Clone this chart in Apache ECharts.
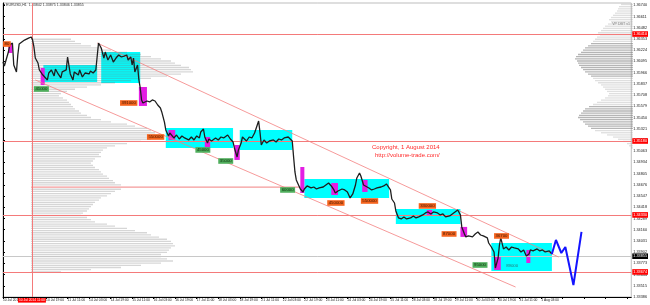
<!DOCTYPE html>
<html><head><meta charset="utf-8">
<script src="https://cdn.jsdelivr.net/npm/echarts@6/dist/echarts.min.js"></script>
<style>html,body{margin:0;padding:0;background:#fff}#c{width:650px;height:305px}</style>
</head><body><div id="c"></div>
<script>
// ---------- data ----------
const xLabels = ['10 Jul 2014','','10 Jul 19:00','11 Jul 11:00','14 Jul 03:00','14 Jul 19:00','15 Jul 11:00','16 Jul 03:00','16 Jul 19:00','17 Jul 11:00','18 Jul 03:00','18 Jul 19:00','21 Jul 11:00','22 Jul 03:00','22 Jul 19:00','23 Jul 11:00','24 Jul 03:00','24 Jul 19:00','25 Jul 11:00','28 Jul 03:00','28 Jul 19:00','29 Jul 11:00','30 Jul 03:00','30 Jul 19:00','31 Jul 11:00','1 Aug 03:00'];

const closeIdx = [0,1,4,5,7,8,10,11,12,14,16,19,21,22,23,24,26,27,29,30,33,34,36,38,39,41,43,44,47,48,50,52,53,56,57,59,61,64,65,67,69,70,71,73,75,76,78,80,82,84,86,88,90,92,93,95,96,97,98,100,101,102,103,104,107,109,111,113,115,117,118,120,121,123,124,127,129,131,133,135,138,140,142,144,146,147,149,150,152,153,155,158,160,162,164,167,169,171,172,174,175,177,178,181,183,185,187,189,190,191,192,194,196,198,201,203,205,207,209,212,213,215,216,217,218,220,221,223,224,226,229,231,233,235,238,240,242,244,246,247,249,252,254,256,258,260,262,263,265,266,268,269,272,274,276,278,281,283,285,286,288,289,291,292,294,296,298,300,303,305,307,309,312,314,316,318,320,323,325,327,329,332,334,336,338,340,341,343,344,346,349,351,353,355,357,360,361,363,365,366,368,369,370,372,374,376,378,380,383,385,387,389,391,392,394,397,399,401,403,406,408];
const closeVal = [1.36088,1.36042,1.36203,1.36284,1.36307,1.36054,1.35974,1.36169,1.36295,1.36318,1.36341,1.36364,1.36376,1.36341,1.36261,1.36134,1.36077,1.35997,1.35951,1.35928,1.35882,1.35962,1.35997,1.35928,1.36008,1.35951,1.35905,1.35974,1.35997,1.36146,1.35951,1.35882,1.35974,1.35939,1.35997,1.35916,1.35962,1.35951,1.35985,1.35962,1.35997,1.36020,1.36307,1.36249,1.36134,1.36203,1.36111,1.36169,1.36088,1.36134,1.36169,1.36146,1.36157,1.36169,1.36111,1.36146,1.36054,1.36134,1.35974,1.36054,1.35882,1.35790,1.35652,1.35617,1.35640,1.35629,1.35652,1.35640,1.35594,1.35560,1.35514,1.35398,1.35307,1.35238,1.35272,1.35215,1.35249,1.35203,1.35238,1.35215,1.35192,1.35226,1.35192,1.35238,1.35215,1.35284,1.35318,1.35226,1.35157,1.35203,1.35180,1.35215,1.35192,1.35226,1.35215,1.35249,1.35203,1.35169,1.35100,1.34996,1.35077,1.35157,1.35226,1.35180,1.35226,1.35215,1.35272,1.35364,1.35410,1.35284,1.35134,1.35192,1.35157,1.35180,1.35192,1.35169,1.35203,1.35192,1.35215,1.35226,1.35203,1.35180,1.34996,1.34824,1.34732,1.34663,1.34628,1.34594,1.34628,1.34663,1.34640,1.34651,1.34628,1.34640,1.34651,1.34674,1.34697,1.34663,1.34617,1.34582,1.34605,1.34628,1.34617,1.34594,1.34525,1.34571,1.34674,1.34755,1.34812,1.34778,1.34674,1.34651,1.34640,1.34617,1.34628,1.34640,1.34651,1.34663,1.34686,1.34697,1.34617,1.34513,1.34467,1.34376,1.34295,1.34284,1.34307,1.34284,1.34295,1.34318,1.34295,1.34307,1.34330,1.34353,1.34364,1.34341,1.34364,1.34353,1.34330,1.34341,1.34307,1.34318,1.34341,1.34364,1.34387,1.34330,1.34192,1.34111,1.34077,1.34088,1.34077,1.34111,1.34134,1.34099,1.34088,1.34065,1.34007,1.33961,1.33904,1.33720,1.33835,1.33984,1.34065,1.33939,1.33961,1.33927,1.33961,1.33950,1.33939,1.33904,1.33927,1.33857,1.33881,1.33927,1.33916,1.33939,1.33916,1.33927,1.33904,1.33916,1.33880];

const projIdx = [408,411,415,418,424,430];
const projVal = [1.33880,1.34042,1.33892,1.33961,1.33524,1.34134];

// cyan zones: [startIdx, endIdx, low, high]
const zones = [[30,70,1.35859,1.36054],[73,102,1.35847,1.36203],[121,171,1.35100,1.35330],[176,215,1.35077,1.35307],[224,287,1.34525,1.34743],[292,340,1.34226,1.34398],[363,408,1.33685,1.34007]];
// magenta high-volume bars: [startIdx, endIdx, low, high]
const hiBars = [[4,7,1.36192,1.36307],[28,31,1.35824,1.36020],[101,107,1.35583,1.35801],[123,128,1.35192,1.35307],[150,154,1.35111,1.35226],[172,176,1.34962,1.35134],[221,224,1.34582,1.34881],[244,249,1.34559,1.34697],[267,271,1.34594,1.34732],[315,319,1.34330,1.34387],[340,345,1.34077,1.34192],[365,370,1.33697,1.33847],[389,392,1.33777,1.33927]];

const orangeTags = [[0,1.36295,'80'],[87,1.35617,'391000'],[107,1.35226,'550000'],[241,1.34467,'450000'],[266,1.34490,'550000'],[309,1.34433,'330000'],[326,1.34111,'87000'],[365,1.34088,'36700']];
const greenTags = [[23,1.35778,'41000'],[143,1.35077,'45000'],[160,1.34950,'35000'],[206,1.34617,'60000'],[349,1.33754,'95000']];
const plainTags = [[374,1.33742,'89000']];

const upperChannel = [[70,1.36307],[413,1.33846]];
const lowerChannel = [[24,1.35882],[381,1.33501]];
const redLevels = [1.36410,1.35180,1.34330,1.33674];
const lastPrice = 1.33855;
const vLineIdx = 21.5;
const vLineText = '10 Jul 2014 11:00';

const profStep = 0.00025;
const leftProfTop = 1.36350;
const leftProfVol = [20,22,25,30,35,40,48,55,60,65,70,72,75,79,80,81,75,68,60,50,42,35,28,22,18,15,14,16,18,19,20,21,22,24,25,28,30,35,40,48,52,58,60,62,64,62,60,55,48,42,38,36,35,34,35,32,31,30,31,32,34,35,36,38,39,41,42,45,135,45,42,40,38,35,34,32,31,30,29,28,26,25,28,30,32,38,42,48,52,58,60,64,68,70,71,72,70,69,68,65,65,68,71,65,55,45,30,15];
const rightProfTop = 1.36750;
const rightProfVol = [6,7,7.5,8,9,10,11,12,11,12.5,14,15,16,17.5,16.5,18,19,20,21,22.5,24,25,26,27.5,28.5,29,28,27.5,27,26,25,24,22.5,21,20,19,17.5,16,15,14,13,12,12.5,14,16,18,20,22,24,25,26,27,27.5,26.5,25,24,22.5,21,19,16,13,10,7.5,5,3,2,1];

// ---------- chart ----------
const PMIN = 1.33386, PMAX = 1.36767, PINT = 0.00129;
const FONT = 'Liberation Sans';
const chart = echarts.init(document.getElementById('c'), null, {renderer:'canvas'});

const leftProfData = leftProfVol.map((v,i)=>[v, leftProfTop - i*profStep]);
const rightProfData = rightProfVol.map((v,i)=>[v, rightProfTop - i*profStep]);
const leftMax = Math.max(...leftProfVol);

function profRender(kind){
  return function(params, api){
    const v = api.value(0), p = api.value(1);
    const a = api.coord([0,p]), b = api.coord([v,p]);
    const h = api.size([0, profStep])[1];
    const x0 = Math.min(a[0],b[0]), w = Math.abs(b[0]-a[0]);
    let fill;
    if (kind==='L') fill = (v===leftMax) ? 'rgba(240,120,120,0.75)' : 'rgba(120,120,120,0.3)';
    else fill = v >= 21 ? 'rgba(120,120,120,0.55)' : 'rgba(150,150,150,0.3)';
    return {type:'rect', shape:{x:x0, y:a[1]-h*0.3, width:w, height:Math.max(1,h*0.6)}, style:{fill:fill}};
  };
}
function rectRender(color){
  return function(params, api){
    const tl = api.coord([api.value(0), api.value(3)]);
    const br = api.coord([api.value(1), api.value(2)]);
    return {type:'rect', shape:{x:tl[0], y:tl[1], width:br[0]-tl[0], height:br[1]-tl[1]}, style:{fill:color}};
  };
}
function tagSeries(list, bg, fg){
  return {type:'custom', xAxisIndex:0, yAxisIndex:0, z:30, silent:true,
    data: list.map(t=>[t[0],t[1]]),
    renderItem:function(params, api){
      const p = api.coord([api.value(0), api.value(1)]);
      const style = {text:list[params.dataIndex][2], fontSize:4.3, fontFamily:FONT, fill:fg, align:'left', verticalAlign:'middle'};
      if (bg){ style.backgroundColor = bg; style.padding = [1,1.5,0.6,1.5]; }
      return {type:'text', x:p[0], y:p[1], style:style};
    }};
}
const lvlLabel = (txt,bg,fs)=>({show:true, position:'end', distance:1, formatter:txt, backgroundColor:bg, color:'#fff', fontSize:fs, fontFamily:FONT, padding:[0.8,1]});
const markLines = redLevels.map(v=>({yAxis:v, lineStyle:{color:'#f47a7a', width:1, type:'solid'}, label:lvlLabel(v.toFixed(5),'#ff0000',3.8)}))
  .concat([{yAxis:lastPrice, lineStyle:{color:'#c8c8c8', width:1, type:'solid'}, label:lvlLabel(lastPrice.toFixed(5),'#000',3.8)},
           {xAxis:vLineIdx, lineStyle:{color:'#f47a7a', width:1, type:'solid'}, label:Object.assign(lvlLabel(vLineText,'#ff0000',3.3),{position:'start'})}]);

const option = {
  animation:false,
  backgroundColor:'#fff',
  grid:[{left:2, right:17, top:3, bottom:8, show:true, borderColor:'#bdbdbd', borderWidth:1, backgroundColor:'#fff'},
        {left:31, right:17, top:3, bottom:8},
        {left:2, right:17, top:3, bottom:8}],
  xAxis:[
    {type:'value', gridIndex:0, min:0, max:467, interval:16,
     axisLine:{show:true, lineStyle:{color:'#000', width:1}}, axisTick:{show:true, length:2, lineStyle:{color:'#000'}},
     splitLine:{show:false},
     axisLabel:{fontSize:3.3, fontFamily:FONT, color:'#222', margin:1.5, align:'left', showMaxLabel:false,
       formatter:function(v){ const k=Math.round(v/16); return xLabels[k]!==undefined ? xLabels[k] : ''; }}},
    {type:'value', gridIndex:1, min:0, max:301, show:false},
    {type:'value', gridIndex:2, min:0, max:315.5, inverse:true, show:false}
  ],
  yAxis:[
    {type:'value', gridIndex:0, position:'right', min:PMIN, max:PMAX, interval:PINT,
     axisLine:{show:true, lineStyle:{color:'#000'}}, axisTick:{show:true, length:2, lineStyle:{color:'#000'}},
     splitLine:{show:false},
     axisLabel:{fontSize:3.8, fontFamily:FONT, color:'#222', margin:2, showMaxLabel:false,
       formatter:function(v){ return v.toFixed(5); }}},
    {type:'value', gridIndex:1, min:PMIN, max:PMAX, show:false},
    {type:'value', gridIndex:2, min:PMIN, max:PMAX, show:false}
  ],
  graphic:[
    {type:'text', left:3, top:3, style:{text:'\u25BE EURUSD,H1  1.33842 1.33875 1.33846 1.33855', fontSize:3.6, fontFamily:FONT, fill:'#333'}},
    {type:'text', right:20, top:22, style:{text:'VP DBT v1', fontSize:3.6, fontFamily:FONT, fill:'#777'}},
    {type:'text', left:372, top:144, style:{text:'Copyright, 1 August 2014', fontSize:6, fontFamily:FONT, fill:'#ff2a2a'}},
    {type:'text', left:375, top:152, style:{text:'http://volume-trade.com/', fontSize:6, fontFamily:FONT, fill:'#ff2a2a'}}
  ],
  series:[
    {type:'custom', name:'zones', xAxisIndex:0, yAxisIndex:0, z:2, silent:true, data:zones, encode:{x:[0,1], y:[2,3]}, renderItem:rectRender('#00ffff')},
    {type:'custom', name:'leftProfile', xAxisIndex:1, yAxisIndex:1, z:3, silent:true, data:leftProfData, encode:{x:0,y:1}, renderItem:profRender('L')},
    {type:'custom', name:'rightProfile', xAxisIndex:2, yAxisIndex:2, z:3, silent:true, data:rightProfData, encode:{x:0,y:1}, renderItem:profRender('R')},
    {type:'custom', name:'hiBars', xAxisIndex:0, yAxisIndex:0, z:4, silent:true, data:hiBars, encode:{x:[0,1], y:[2,3]}, renderItem:rectRender('#e31ee3')},
    {type:'line', name:'upper', xAxisIndex:0, yAxisIndex:0, z:5, silent:true, data:upperChannel, symbol:'none', lineStyle:{color:'#f48080', width:0.8}},
    {type:'line', name:'lower', xAxisIndex:0, yAxisIndex:0, z:5, silent:true, data:lowerChannel, symbol:'none', lineStyle:{color:'#f48080', width:0.8}},
    {type:'line', name:'price', xAxisIndex:0, yAxisIndex:0, z:10, silent:true, data:closeIdx.map((x,i)=>[x, closeVal[i]]), symbol:'none', lineStyle:{color:'#1e1e1e', width:1.3},
     markLine:{silent:true, symbol:'none', animation:false, precision:5, data:markLines}},
    {type:'line', name:'projection', xAxisIndex:0, yAxisIndex:0, z:11, silent:true, data:projIdx.map((x,i)=>[x, projVal[i]]), symbol:'none', lineStyle:{color:'#1414ff', width:2}},
    tagSeries(orangeTags, '#f5641e', '#3a1500'),
    tagSeries(greenTags, '#4fae5c', '#10300f'),
    tagSeries(plainTags, null, '#2c7373')
  ]
};
chart.setOption(option);
</script></body></html>
